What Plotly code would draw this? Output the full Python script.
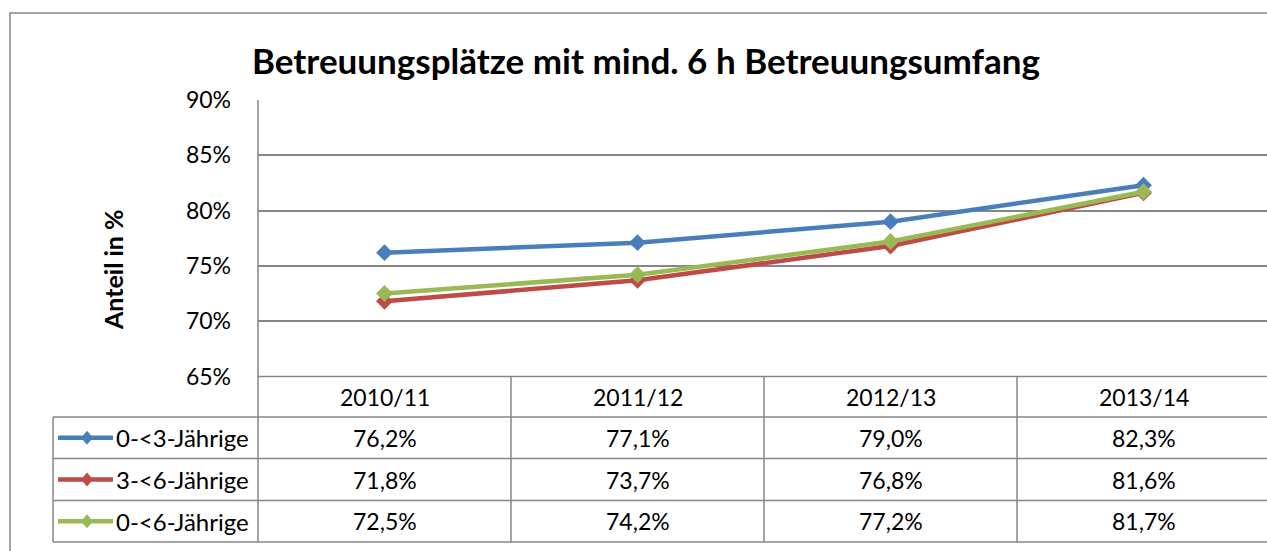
import plotly.graph_objects as go

W, H = 1267, 551

title = "Betreuungsplätze mit mind. 6 h Betreuungsumfang"
y_title = "Anteil in %"
categories = ["2010/11", "2011/12", "2012/13", "2013/14"]
series_names = ["0-<3-Jährige", "3-<6-Jährige", "0-<6-Jährige"]
vals_0_3 = [76.2, 77.1, 79.0, 82.3]
vals_3_6 = [71.8, 73.7, 76.8, 81.6]
vals_0_6 = [72.5, 74.2, 77.2, 81.7]
series_values = [vals_0_3, vals_3_6, vals_0_6]
colors = ["#4A7EBB", "#BE4B48", "#98B954"]
y_ticks = [65, 70, 75, 80, 85, 90]

FONT = "Lato, Carlito, Calibri, sans-serif"
GRID = "#868686"
TXT = 23


def px_x(p):
    return p / W


def px_y(p):
    return 1 - p / H


# layout geometry (pixels)
plot_left, plot_top, plot_bottom = 258, 100, 376.5
col_w = 253
row_lines = [376.5, 417, 458.5, 500.5, 542]
legend_left = 53

fig = go.Figure()
x_idx = list(range(len(categories)))
for name, vals, col in zip(series_names, series_values, colors):
    fig.add_trace(go.Scatter(
        x=x_idx, y=vals, name=name, mode="lines+markers",
        line=dict(color=col, width=4.5),
        marker=dict(symbol="diamond", size=13, color=col),
        showlegend=False, cliponaxis=False,
    ))

right_edge_units = -0.5 + (W - plot_left) / col_w

shapes = []
# outer chart border
shapes.append(dict(type="rect", xref="paper", yref="paper",
                   x0=px_x(10), y0=-0.05, x1=1.05, y1=px_y(13),
                   line=dict(color=GRID, width=1.5)))
# table horizontal lines
for i, r in enumerate(row_lines):
    x0 = px_x(plot_left) if i == 0 else px_x(legend_left)
    shapes.append(dict(type="line", xref="paper", yref="paper",
                       x0=x0, x1=1, y0=px_y(r), y1=px_y(r),
                       line=dict(color=GRID, width=1.5)))
# vertical line at plot left extending through table
shapes.append(dict(type="line", xref="paper", yref="paper",
                   x0=px_x(plot_left), x1=px_x(plot_left),
                   y0=px_y(plot_top), y1=px_y(row_lines[-1]),
                   line=dict(color=GRID, width=1.5)))
# legend column left border
shapes.append(dict(type="line", xref="paper", yref="paper",
                   x0=px_x(legend_left), x1=px_x(legend_left),
                   y0=px_y(row_lines[1]), y1=px_y(row_lines[-1]),
                   line=dict(color=GRID, width=1.5)))
# column separators (category boundaries)
for b in range(1, len(categories)):
    shapes.append(dict(type="line", xref="x", yref="paper",
                       x0=b - 0.5, x1=b - 0.5,
                       y0=px_y(row_lines[0]), y1=px_y(row_lines[-1]),
                       line=dict(color=GRID, width=1.5)))

annotations = []
# header row
hc = (row_lines[0] + row_lines[1]) / 2
for i, c in enumerate(categories):
    annotations.append(dict(x=i, y=px_y(hc), xref="x", yref="paper",
                            text=c, showarrow=False,
                            font=dict(family=FONT, size=TXT, color="#000"),
                            xanchor="center", yanchor="middle"))
# data rows
for r, (name, vals, col) in enumerate(zip(series_names, series_values, colors)):
    rc = (row_lines[r + 1] + row_lines[r + 2]) / 2
    for i, v in enumerate(vals):
        annotations.append(dict(x=i, y=px_y(rc), xref="x", yref="paper",
                                text=f"{v:.1f}%".replace(".", ","), showarrow=False,
                                font=dict(family=FONT, size=TXT, color="#000"),
                                xanchor="center", yanchor="middle"))
    annotations.append(dict(x=px_x(114), y=px_y(rc), xref="paper", yref="paper",
                            text=name, showarrow=False,
                            font=dict(family=FONT, size=24, color="#000"),
                            xanchor="left", yanchor="middle"))
    # legend key: line + diamond
    shapes.append(dict(type="line", xref="paper", yref="paper",
                       x0=px_x(58), x1=px_x(113), y0=px_y(rc), y1=px_y(rc),
                       line=dict(color=col, width=4.5)))
    dx, dy = 6, 7
    cx, cy = 87, rc
    path = (f"M {px_x(cx - dx)} {px_y(cy)} L {px_x(cx)} {px_y(cy - dy)} "
            f"L {px_x(cx + dx)} {px_y(cy)} L {px_x(cx)} {px_y(cy + dy)} Z")
    shapes.append(dict(type="path", xref="paper", yref="paper", path=path,
                       fillcolor=col, line=dict(color=col, width=0)))

# title and axis title
annotations.append(dict(x=px_x(646), y=px_y(60), xref="paper", yref="paper",
                        text=f"<b>{title}</b>", showarrow=False,
                        font=dict(family=FONT, size=35, color="#000"),
                        xanchor="center", yanchor="middle"))
annotations.append(dict(x=px_x(113), y=px_y(270), xref="paper", yref="paper",
                        text=f"<b>{y_title}</b>", showarrow=False, textangle=-90,
                        font=dict(family=FONT, size=25, color="#000"),
                        xanchor="center", yanchor="middle"))

fig.update_layout(
    width=W, height=H,
    margin=dict(l=0, r=0, t=0, b=0, pad=0, autoexpand=False),
    paper_bgcolor="white", plot_bgcolor="white",
    shapes=shapes, annotations=annotations,
    xaxis=dict(domain=[px_x(plot_left), 1], range=[-0.5, right_edge_units],
               showgrid=False, zeroline=False, showticklabels=False,
               showline=False, fixedrange=True, automargin=False),
    yaxis=dict(domain=[px_y(plot_bottom), px_y(plot_top)], range=[65, 90],
               tickvals=y_ticks, ticktext=[f"{t}%" for t in y_ticks],
               showgrid=True, gridcolor=GRID, gridwidth=1.5,
               zeroline=False, showline=False, automargin=False,
               tickfont=dict(family=FONT, size=TXT, color="#000"),
               ticks="", ticklabelstandoff=26),
)

post = ("document.body.style.margin='0';"
        "document.body.style.padding='0';"
        "document.body.style.overflow='hidden';"
        "document.documentElement.style.overflow='hidden';")

fig.write_html("out.html", post_script=post, config={"displayModeBar": False})
